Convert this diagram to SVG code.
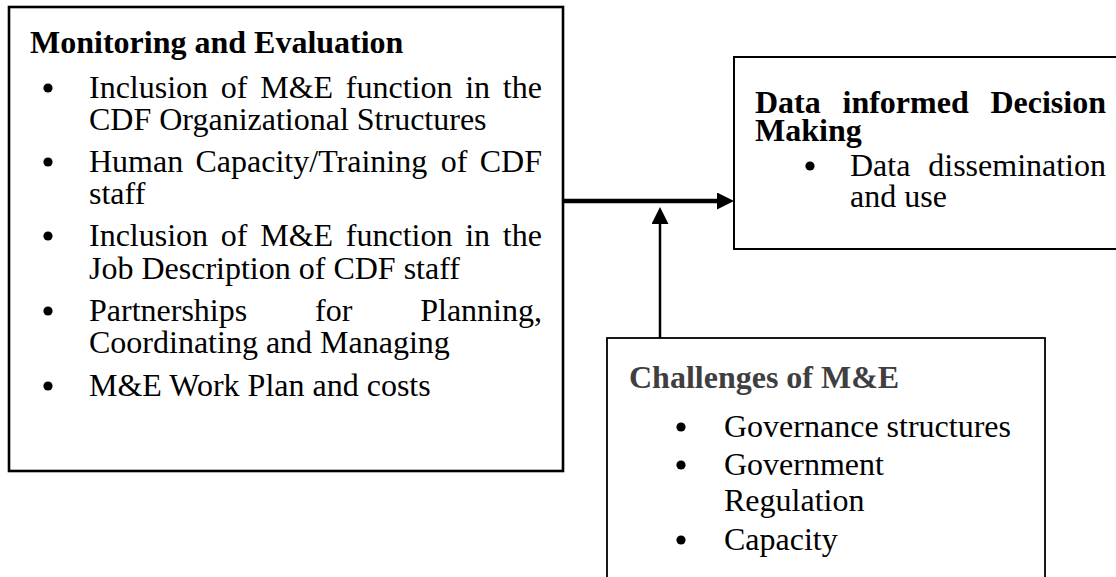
<svg xmlns="http://www.w3.org/2000/svg" width="1116" height="577" viewBox="0 0 1116 577">
  <style>
    .box { fill: #ffffff; stroke: #000000; }
    .t { font-family: "Liberation Serif", "Times New Roman", serif; font-size: 32px; fill: #000000; }
    .b { font-weight: bold; }
    .grey { fill: #3f3f3f; }
    .dot { fill: #000000; }
    .conn { stroke: #000000; fill: none; }
  </style>
  <defs>
    <marker id="ah" viewBox="0 0 17 17" refX="5" refY="8.5" markerWidth="17" markerHeight="17" markerUnits="userSpaceOnUse" orient="auto">
      <path d="M0,0 L17,8.5 L0,17 Z" fill="#000000"/>
    </marker>
  </defs>
  <rect x="0" y="0" width="1116" height="577" fill="#ffffff"/>

  <g id="node-monitoring">
    <rect class="box" x="9" y="7" width="554" height="464" stroke-width="2.6"/>
    <text class="t b" x="30" y="53">Monitoring and Evaluation</text>
    <circle class="dot" cx="48" cy="88" r="4.6"/>
    <text class="t" y="98"><tspan x="89">Inclusion</tspan><tspan x="220.8">of</tspan><tspan x="260.2">M&amp;E</tspan><tspan x="345.8">function</tspan><tspan x="465.2">in</tspan><tspan x="502.8">the</tspan></text>
    <text class="t" x="89" y="130">CDF Organizational Structures</text>
    <circle class="dot" cx="48" cy="162" r="4.6"/>
    <text class="t" y="172"><tspan x="89">Human</tspan><tspan x="195.5">Capacity/Training</tspan><tspan x="440.7">of</tspan><tspan x="479.7">CDF</tspan></text>
    <text class="t" x="89" y="204">staff</text>
    <circle class="dot" cx="48" cy="236" r="4.6"/>
    <text class="t" y="246"><tspan x="89">Inclusion</tspan><tspan x="220.8">of</tspan><tspan x="260.2">M&amp;E</tspan><tspan x="345.8">function</tspan><tspan x="465.2">in</tspan><tspan x="502.8">the</tspan></text>
    <text class="t" x="89" y="279">Job Description of CDF staff</text>
    <circle class="dot" cx="48" cy="311" r="4.6"/>
    <text class="t" y="321"><tspan x="89">Partnerships</tspan><tspan x="315">for</tspan></text>
    <text class="t" x="542" y="321" text-anchor="end">Planning,</text>
    <text class="t" x="89" y="353">Coordinating and Managing</text>
    <circle class="dot" cx="48" cy="386" r="4.6"/>
    <text class="t" x="89" y="396">M&amp;E Work Plan and costs</text>
  </g>

  <g id="node-decision">
    <rect class="box" x="734" y="57" width="400" height="192" stroke-width="2"/>
    <text class="t b" y="113"><tspan x="755">Data</tspan><tspan x="842.5">informed</tspan></text>
    <text class="t b" x="1106" y="113" text-anchor="end">Decision</text>
    <text class="t b" x="755" y="141">Making</text>
    <circle class="dot" cx="810" cy="166" r="4.6"/>
    <text class="t" x="850" y="176">Data</text>
    <text class="t" x="1106" y="176" text-anchor="end">dissemination</text>
    <text class="t" x="850" y="207">and use</text>
  </g>

  <g id="node-challenges">
    <rect class="box" x="607" y="338" width="438" height="260" stroke-width="1.8"/>
    <text class="t b grey" x="629" y="388">Challenges of M&amp;E</text>
    <circle class="dot" cx="681" cy="427" r="4.6"/>
    <text class="t" x="724" y="437">Governance structures</text>
    <circle class="dot" cx="681" cy="465" r="4.6"/>
    <text class="t" x="724" y="475">Government</text>
    <text class="t" x="724" y="511">Regulation</text>
    <circle class="dot" cx="681" cy="540" r="4.6"/>
    <text class="t" x="724" y="550">Capacity</text>
  </g>

  <g id="connectors">
    <line class="conn" x1="563" y1="201" x2="722" y2="201" stroke-width="4.5" marker-end="url(#ah)"/>
    <line class="conn" x1="660" y1="338" x2="660" y2="219" stroke-width="2.5" marker-end="url(#ah)"/>
  </g>
</svg>
